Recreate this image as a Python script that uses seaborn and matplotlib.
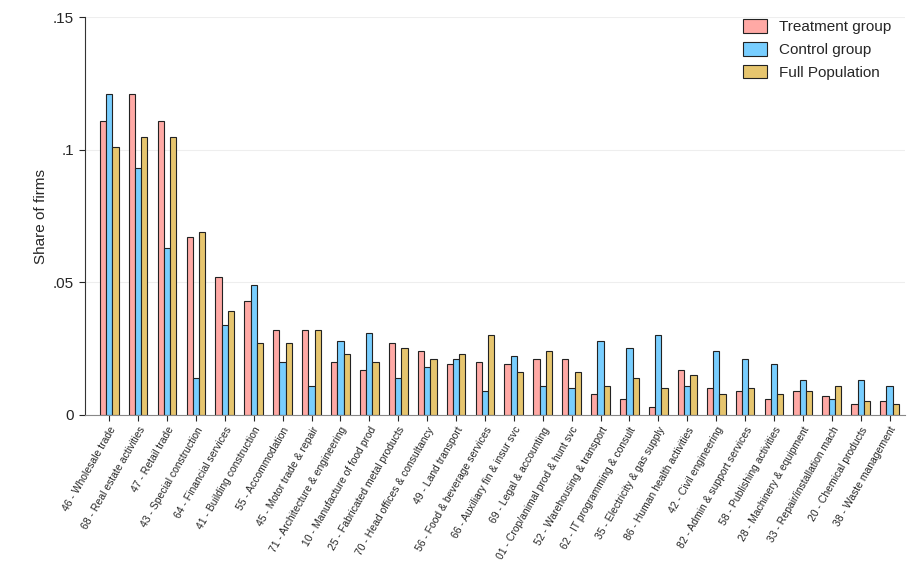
import pandas as pd
import matplotlib.pyplot as plt
import seaborn as sns

sectors = [
    "46 - Wholesale trade", "68 - Real estate activities", "47 - Retail trade",
    "43 - Special construction", "64 - Financial services", "41 - Building construction",
    "55 - Accommodation", "45 - Motor trade & repair", "71 - Architecture & engineering",
    "10 - Manufacture of food prod", "25 - Fabricated metal products",
    "70 - Head offices & consultancy", "49 - Land transport",
    "56 - Food & beverage services", "66 - Auxiliary fin & insur svc",
    "69 - Legal & accounting", "01 - Crop/animal prod & hunt svc",
    "52 - Warehousing & transport", "62 - IT programming & consult",
    "35 - Electricity & gas supply", "86 - Human health activities",
    "42 - Civil engineering", "82 - Admin & support services",
    "58 - Publishing activities", "28 - Machinery & equipment",
    "33 - Repair/installation mach", "20 - Chemical products", "38 - Waste management",
]
treatment = [.111, .121, .111, .067, .052, .043, .032, .032, .020, .017, .027, .024, .019, .020,
             .019, .021, .021, .008, .006, .003, .017, .010, .009, .006, .009, .007, .004, .005]
control = [.121, .093, .063, .014, .034, .049, .020, .011, .028, .031, .014, .018, .021, .009,
           .022, .011, .010, .028, .025, .030, .011, .024, .021, .019, .013, .006, .013, .011]
full_pop = [.101, .105, .105, .069, .039, .027, .027, .032, .023, .020, .025, .021, .023, .030,
            .016, .024, .016, .011, .014, .010, .015, .008, .010, .008, .009, .011, .005, .004]

groups = ["Treatment group", "Control group", "Full Population"]
colors = ["#FFA9A5", "#78CEFF", "#E6C56E"]

df = pd.concat([
    pd.DataFrame({"sector": sectors, "share": vals, "group": g})
    for g, vals in zip(groups, [treatment, control, full_pop])
])

sns.set_style("white")
plt.rcParams["font.family"] = ["Arial", "Liberation Sans", "DejaVu Sans"]

fig, ax = plt.subplots(figsize=(9.1, 5.8), dpi=100)
sns.barplot(data=df, x="sector", y="share", hue="group", palette=colors,
            hue_order=groups, order=sectors, width=0.65, gap=0.0, saturation=1,
            edgecolor="#222222", linewidth=0.8, ax=ax)

ax.set_ylim(0, 0.15)
ax.set_yticks([0, 0.05, 0.1, 0.15])
ax.set_yticklabels(["0", ".05", ".1", ".15"])
ax.set_xlim(-0.85, len(sectors) - 0.45)
ax.yaxis.grid(True, color="#EEEEEE", linewidth=0.8)
ax.set_axisbelow(True)
ax.set_xlabel("")
ax.set_ylabel("Share of firms", fontsize=11)
ax.tick_params(axis="x", rotation=60, labelsize=7.5, length=4)
ax.tick_params(axis="y", labelsize=11, length=4, left=True)
ax.tick_params(axis="x", bottom=True)
for lab in ax.get_xticklabels():
    lab.set_ha("right")
    lab.set_rotation_mode("anchor")
for s in ["top", "right"]:
    ax.spines[s].set_visible(False)
ax.spines["left"].set_color("#333333")
ax.spines["bottom"].set_color("#888888")

ax.legend(title=None, frameon=False, loc="upper right", bbox_to_anchor=(1.0, 1.03),
          fontsize=11, handlelength=1.6, handleheight=1.0)

plt.subplots_adjust(left=0.093, right=0.995, top=0.97, bottom=0.285)
plt.savefig("out.png", dpi=100)
